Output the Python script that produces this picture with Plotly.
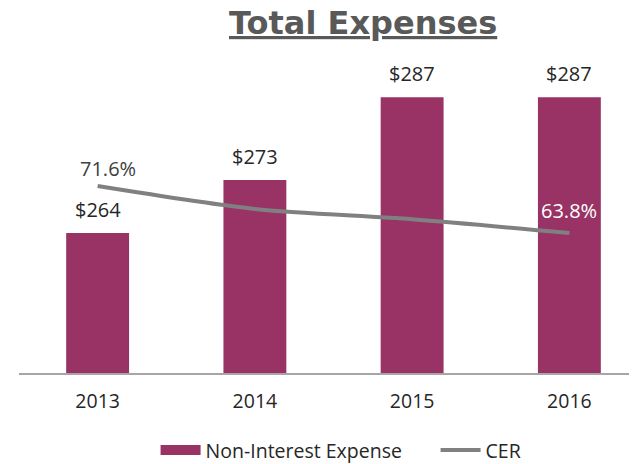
import plotly.graph_objects as go

years = ["2013", "2014", "2015", "2016"]
expense = [264, 273, 287, 287]
expense_labels = ["$264", "$273", "$287", "$287"]
cer = [71.6, 67.8, 66.1, 63.8]
cer_labels = ["71.6%", "", "", "63.8%"]
cer_label_colors = ["#404040", "", "", "#ffffff"]
cer_label_xshift = [10, 0, 0, 0]
cer_label_yshift = [2, 0, 0, 7]

BAR = "#993366"
LINE = "#808080"
FONT = "Open Sans, Noto Sans, sans-serif"

fig = go.Figure()
fig.add_trace(go.Bar(
    x=years, y=expense, name="Non-Interest Expense",
    marker=dict(color=BAR, line=dict(width=0)),
    width=0.4, showlegend=False, legendgroup="bar",
))
# legend-only entry so the bar key is drawn as a wide rectangle
fig.add_trace(go.Scatter(
    x=[None], y=[None], name="Non-Interest Expense", mode="lines",
    line=dict(color=BAR, width=13), legendgroup="bar", hoverinfo="skip",
))
fig.add_trace(go.Scatter(
    x=years, y=cer, name="CER", yaxis="y2", mode="lines",
    line=dict(color=LINE, width=4, shape="spline", smoothing=0.8),
))

annotations = []
for i, t in enumerate(expense_labels):
    annotations.append(dict(
        x=i, y=expense[i], xref="x", yref="y", text=t, showarrow=False,
        yanchor="bottom", yshift=8,
        font=dict(size=20, color="#262626", family=FONT),
    ))
for i, t in enumerate(cer_labels):
    if t:
        annotations.append(dict(
            x=i, y=cer[i], xref="x", yref="y2", text=t, showarrow=False,
            yanchor="bottom", yshift=cer_label_yshift[i], xshift=cer_label_xshift[i],
            font=dict(size=20, color=cer_label_colors[i], family=FONT),
        ))
annotations.append(dict(
    x=0.556, y=1.0, xref="paper", yref="paper", yanchor="middle", yshift=37,
    text="<b><u>Total Expenses</u></b>", showarrow=False,
    font=dict(size=32, color="#595959", family="DejaVu Sans, Verdana, sans-serif"),
))

# page body has an 8px default margin, so the figure is drawn 8px smaller
fig.update_layout(
    width=629, height=456,
    margin=dict(l=11, r=0, t=52, b=91, autoexpand=False),
    plot_bgcolor="white", paper_bgcolor="white",
    showlegend=True,
    legend=dict(orientation="h", x=0.221, xanchor="left", y=-0.185, yanchor="top",
                font=dict(size=19.5, color="#262626", family=FONT),
                itemwidth=40, tracegroupgap=0, entrywidth=225),
    annotations=annotations,
    xaxis=dict(type="category", range=[-0.5, 3.43], showline=True,
               linecolor="#a6a6a6", linewidth=1.5, ticks="", showgrid=False,
               ticklabelstandoff=10,
               tickfont=dict(size=19.5, color="#262626", family=FONT)),
    yaxis=dict(range=[240.3, 293.3], showticklabels=False, showgrid=False,
               zeroline=False, showline=False, ticks=""),
    yaxis2=dict(range=[40.6, 92.5], overlaying="y", side="right",
                showticklabels=False, showgrid=False, zeroline=False,
                showline=False, ticks=""),
)

fig.write_html("out.html")
